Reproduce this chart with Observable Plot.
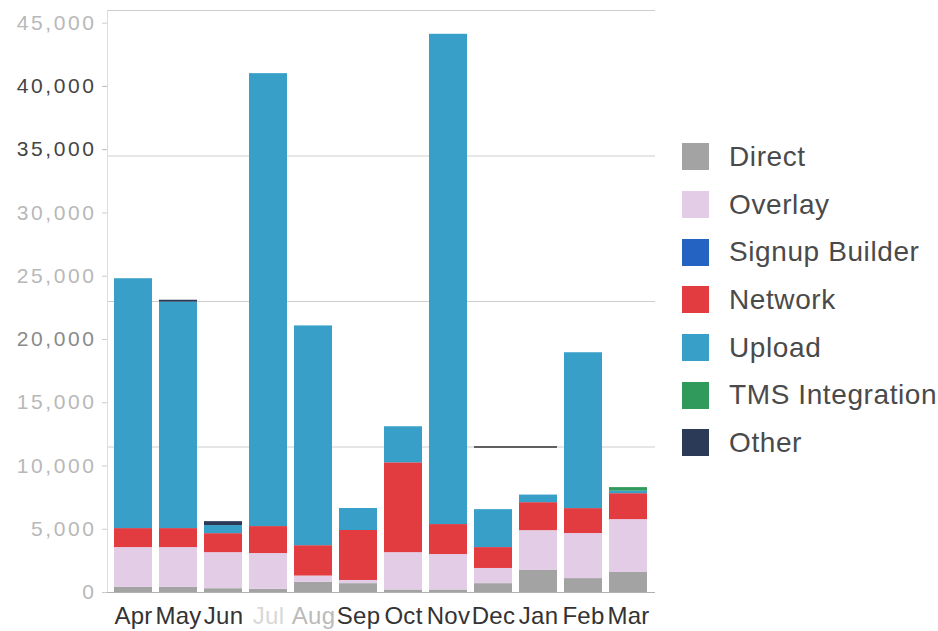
<!DOCTYPE html>
<html>
<head>
<meta charset="utf-8">
<script src="https://cdn.jsdelivr.net/npm/d3@7"></script>
<script src="https://cdn.jsdelivr.net/npm/@observablehq/plot@0.6"></script>
<style>
  html, body { margin: 0; padding: 0; background: #fff; }
  #wrap { position: relative; width: 938px; height: 631px; font-family: "Liberation Sans", Arial, sans-serif; overflow: hidden; }
  #chart { position: absolute; left: 0; top: 0; }
  #chart g[aria-label="y-axis tick label"] text { letter-spacing: 2.6px; }
  #chart g[aria-label="x-axis tick label"] text { letter-spacing: 0.3px; }
  #legend { position: absolute; left: 682px; top: 133px; }
  .item { display: flex; align-items: center; height: 47.7px; }
  .sw { width: 27px; height: 27px; margin-right: 20px; flex: none; }
  .lab { font-size: 28px; letter-spacing: 0.6px; color: #4a4a4a; white-space: nowrap; }
</style>
</head>
<body>
<div id="wrap">
  <div id="chart"></div>
  <div id="legend"></div>
</div>
<script>
// Months along the x axis
const months = ["Apr", "May", "Jun", "Jul", "Aug", "Sep", "Oct", "Nov", "Dec", "Jan", "Feb", "Mar"];

// Series, stacked bottom to top, and their colours
const seriesNames = ["Direct", "Overlay", "Signup Builder", "Network", "Upload", "TMS Integration", "Other"];
const seriesColors = ["#a3a3a3", "#e3cde6", "#2563c2", "#e23b40", "#38a0c8", "#2f9a5c", "#2b3a56"];

// Monthly counts per series
const direct         = [400, 400, 300, 250, 800, 700, 200, 200, 700, 1740, 1100, 1580];
const overlay        = [3150, 3150, 2850, 2830, 500, 250, 2950, 2800, 1200, 3150, 3560, 4180];
const signupBuilder  = [0, 0, 0, 0, 0, 0, 0, 0, 0, 0, 0, 0];
const network        = [1500, 1500, 1500, 2130, 2400, 3950, 7100, 2370, 1650, 2210, 1970, 2050];
const upload         = [19750, 17900, 640, 35800, 17370, 1740, 2850, 38750, 3000, 600, 12320, 200];
const tmsIntegration = [0, 0, 0, 0, 0, 0, 0, 0, 0, 0, 0, 280];
const other          = [0, 150, 310, 0, 0, 0, 0, 0, 0, 0, 0, 0];

// Axis ticks and horizontal grid lines
const yTicks = [0, 5000, 10000, 15000, 20000, 25000, 30000, 35000, 40000, 45000];
const yTicksDark = [35000, 40000];
const yTicksMid = [20000];
const gridValues = [11500, 23000, 34500, 46000];
const monthsFaint = ["Jul"];
const monthsSoft = ["Aug"];

// Dark reference segment across Dec–Jan
const darkSegment = [{from: "Dec", to: "Jan", value: 11500}];

const seriesValues = [direct, overlay, signupBuilder, network, upload, tmsIntegration, other];
const rows = [];
months.forEach((m, i) => {
  seriesNames.forEach((s, k) => {
    rows.push({month: m, series: s, value: seriesValues[k][i]});
  });
});

const yFmt = d3.format(",");
const yLight = yTicks.filter(t => !yTicksDark.includes(t) && !yTicksMid.includes(t));
const xDark = months.filter(m => !monthsFaint.includes(m) && !monthsSoft.includes(m));

const xAxisOpts = {tickSize: 0, tickPadding: 14, fontSize: 24, label: null};
const yAxisOpts = {tickSize: 5, tickPadding: 6, fontSize: 21, tickFormat: yFmt, label: null};

const chart = Plot.plot({
  width: 670,
  height: 631,
  marginLeft: 107,
  marginRight: 15,
  marginTop: 10,
  marginBottom: 39,
  style: {fontFamily: "'Liberation Sans', Arial, sans-serif", background: "transparent", overflow: "visible"},
  x: {domain: months, paddingInner: 0.15, paddingOuter: 0.075},
  y: {domain: [0, 46000]},
  color: {domain: seriesNames, range: seriesColors},
  marks: [
    Plot.ruleY(gridValues, {stroke: "#cdcdcd", strokeWidth: 1.2}),
    Plot.frame({anchor: "left", stroke: "#dddddd"}),
    Plot.barY(rows, {x: "month", y: "value", fill: "series", order: seriesNames}),
    Plot.ruleY(darkSegment, {y: "value", x1: "from", x2: "to", stroke: "#333", strokeWidth: 1.5}),
    Plot.ruleY([0], {stroke: "#b0b0b0"}),
    Plot.axisX(xDark, {...xAxisOpts, fill: "#333"}),
    Plot.axisX(monthsSoft, {...xAxisOpts, fill: "#bbb"}),
    Plot.axisX(monthsFaint, {...xAxisOpts, fill: "#d8d8d8"}),
    Plot.axisY(yLight, {...yAxisOpts, fill: "#b8b8b8", stroke: "#cccccc"}),
    Plot.axisY(yTicksMid, {...yAxisOpts, fill: "#8a8a8a", stroke: "#cccccc"}),
    Plot.axisY(yTicksDark, {...yAxisOpts, fill: "#444", stroke: "#bbbbbb"})
  ]
});
document.getElementById("chart").appendChild(chart);

// Legend
const legend = document.getElementById("legend");
seriesNames.forEach((s, k) => {
  const item = document.createElement("div");
  item.className = "item";
  const sw = document.createElement("div");
  sw.className = "sw";
  sw.style.background = seriesColors[k];
  const lab = document.createElement("div");
  lab.className = "lab";
  lab.textContent = s;
  item.appendChild(sw);
  item.appendChild(lab);
  legend.appendChild(item);
});
</script>
</body>
</html>
